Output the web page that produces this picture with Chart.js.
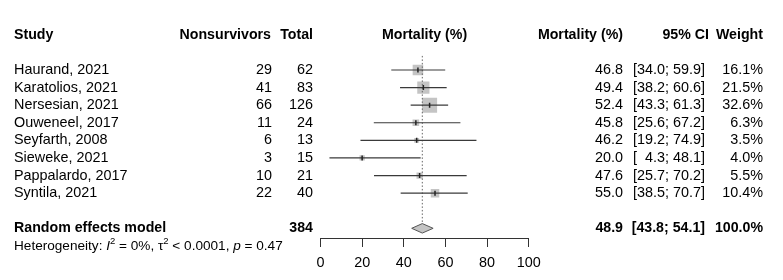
<!DOCTYPE html>
<html>
<head>
<meta charset="utf-8">
<script src="https://cdn.jsdelivr.net/npm/chart.js@4"></script>
<style>
  html, body { margin: 0; padding: 0; background: #fff; }
  canvas { display: block; }
</style>
</head>
<body>
<canvas id="forest" width="783" height="280"></canvas>
<script>
// --- Data ---
const studies = ['Haurand, 2021', 'Karatolios, 2021', 'Nersesian, 2021', 'Ouweneel, 2017',
                 'Seyfarth, 2008', 'Sieweke, 2021', 'Pappalardo, 2017', 'Syntila, 2021'];
const nonsurvivors = [29, 41, 66, 11, 6, 3, 10, 22];
const totals = [62, 83, 126, 24, 13, 15, 21, 40];
const mortality = [46.8, 49.4, 52.4, 45.8, 46.2, 20.0, 47.6, 55.0];
const ciLow = [34.0, 38.2, 43.3, 25.6, 19.2, 4.3, 25.7, 38.5];
const ciHigh = [59.9, 60.6, 61.3, 67.2, 74.9, 48.1, 70.2, 70.7];
const weights = [16.1, 21.5, 32.6, 6.3, 3.5, 4.0, 5.5, 10.4];
const pooled = [48.9, 43.8, 54.1];   // estimate, lower, upper
const pooledTotal = 384;
const pooledWeight = 100.0;
const xTicks = [0, 20, 40, 60, 80, 100];

// row layout: 0 header, 2..9 studies, 11 random effects, 12 heterogeneity
const studyRows = studies.map((s, i) => i + 2);
const pooledRow = 11;
const FONT = 'Arial, "Liberation Sans", sans-serif';

const fmt = v => v.toFixed(1);
const fmtCI = (lo, hi) => '[' + fmt(lo).padStart(4, '\u2007') + '; ' + fmt(hi) + ']';

// --- Datasets ---
const datasets = [];

// gray weight squares
datasets.push({
    type: 'scatter',
    data: mortality.map((m, i) => ({ x: m, y: studyRows[i] })),
    pointStyle: 'rect',
    pointRadius: weights.map(w => 1.86 * Math.sqrt(w)),
    pointHoverRadius: weights.map(w => 1.86 * Math.sqrt(w)),
    backgroundColor: '#c4c4c4',
    borderWidth: 0,
    order: 5
});

// CI lines
studies.forEach((s, i) => {
    datasets.push({
        type: 'line',
        data: [{ x: ciLow[i], y: studyRows[i] }, { x: ciHigh[i], y: studyRows[i] }],
        borderColor: '#3a3a3a',
        borderWidth: 1.2,
        pointRadius: 0,
        order: 2
    });
});

// point estimate marks
datasets.push({
    type: 'scatter',
    data: mortality.map((m, i) => ({ x: m, y: studyRows[i] })),
    pointStyle: 'line',
    rotation: 90,
    pointRadius: 2.5,
    borderColor: '#222',
    borderWidth: 1.5,
    order: 1
});

// dotted reference line at pooled estimate
datasets.push({
    type: 'line',
    data: [{ x: pooled[0], y: 1.2 }, { x: pooled[0], y: pooledRow - 0.27 }],
    borderColor: '#666',
    borderWidth: 1,
    borderDash: [1.5, 2],
    pointRadius: 0,
    order: 3
});

// pooled diamond
datasets.push({
    type: 'line',
    data: [
        { x: pooled[1], y: pooledRow },
        { x: pooled[0], y: pooledRow - 0.27 },
        { x: pooled[2], y: pooledRow },
        { x: pooled[0], y: pooledRow + 0.27 },
        { x: pooled[1], y: pooledRow }
    ],
    borderColor: '#555',
    borderWidth: 1,
    backgroundColor: '#c4c4c4',
    fill: 'shape',
    pointRadius: 0,
    order: 2
});

// --- Table text plugin ---
const tablePlugin = {
    id: 'forestTable',
    afterDraw(chart) {
        const ctx = chart.ctx;
        const ys = chart.scales.y;
        const xs = chart.scales.x;
        const rowY = r => ys.getPixelForValue(r);
        const txt = (s, x, y, align, bold) => {
            ctx.font = bold ? 'bold 14.2px ' + FONT : '14.4px ' + FONT;
            ctx.textAlign = align;
            ctx.fillText(s, x, y);
        };
        ctx.save();
        ctx.fillStyle = '#000';
        ctx.textBaseline = 'middle';

        // header
        const hy = rowY(0);
        txt('Study', 14, hy, 'left', true);
        txt('Nonsurvivors', 271, hy, 'right', true);
        txt('Total', 313, hy, 'right', true);
        txt('Mortality (%)', xs.getPixelForValue(50), hy, 'center', true);
        txt('Mortality (%)', 623, hy, 'right', true);
        txt('95% CI', 709, hy, 'right', true);
        txt('Weight', 763, hy, 'right', true);

        // studies
        studies.forEach((s, i) => {
            const y = rowY(studyRows[i]);
            txt(s, 14, y, 'left');
            txt(String(nonsurvivors[i]), 272, y, 'right');
            txt(String(totals[i]), 313, y, 'right');
            txt(fmt(mortality[i]), 623, y, 'right');
            txt(fmtCI(ciLow[i], ciHigh[i]), 705, y, 'right');
            txt(fmt(weights[i]) + '%', 763, y, 'right');
        });

        // pooled
        const py = rowY(pooledRow);
        txt('Random effects model', 14, py, 'left', true);
        txt(String(pooledTotal), 313, py, 'right', true);
        txt(fmt(pooled[0]), 623, py, 'right', true);
        txt(fmtCI(pooled[1], pooled[2]), 705, py, 'right', true);
        txt(fmt(pooledWeight) + '%', 763, py, 'right', true);

        // heterogeneity line with italics and superscripts
        const hty = rowY(pooledRow + 1);
        let x = 14;
        const piece = (s, style, dy) => {
            ctx.font = style + ' ' + FONT;
            ctx.textAlign = 'left';
            ctx.fillText(s, x, hty + (dy || 0));
            x += ctx.measureText(s).width;
        };
        piece('Heterogeneity: ', '13.6px');
        piece('I', 'italic 13.6px');
        piece('2', '9.5px', -5);
        piece(' = 0%, \u03C4', '13.6px');
        piece('2', '9.5px', -5);
        piece(' < 0.0001, ', '13.6px');
        piece('p', 'italic 13.6px');
        piece(' = 0.47', '13.6px');
        ctx.restore();
    }
};

new Chart(document.getElementById('forest'), {
    type: 'scatter',
    data: { datasets },
    options: {
        responsive: false,
        animation: false,
        devicePixelRatio: 1,
        layout: { padding: { left: 320.5, right: 254.3, top: 34.8, bottom: 0 } },
        plugins: { legend: { display: false }, tooltip: { enabled: false } },
        scales: {
            x: {
                type: 'linear',
                min: 0,
                max: 100,
                afterBuildTicks: scale => { scale.ticks = xTicks.map(v => ({ value: v })); },
                afterFit: scale => { scale.height = 42; },
                grid: { drawOnChartArea: false, drawTicks: true, tickLength: 9, color: '#333', lineWidth: 1 },
                border: { display: true, color: '#333', width: 1 },
                ticks: { color: '#000', font: { family: FONT, size: 14.4 }, padding: 7, maxRotation: 0 }
            },
            y: {
                type: 'linear',
                display: false,
                reverse: true,
                min: 0,
                max: 11.55
            }
        }
    },
    plugins: [tablePlugin]
});
</script>
</body>
</html>
